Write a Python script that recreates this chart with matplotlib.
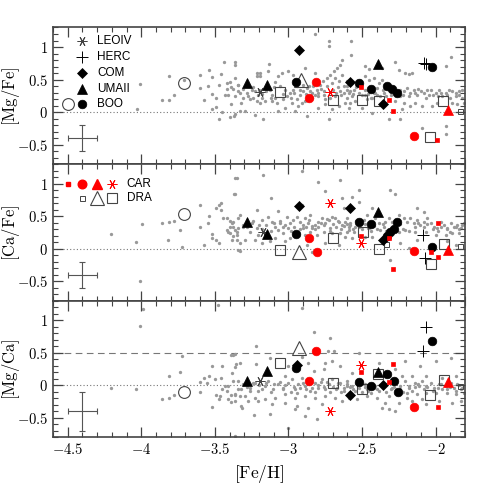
import matplotlib.pyplot as plt
from matplotlib.ticker import MultipleLocator, FuncFormatter

plt.rcParams['mathtext.fontset'] = 'cm'
plt.rcParams['font.family'] = ['Liberation Sans', 'DejaVu Sans']

# ---- field stars (grey dots) : (Fe/H, value)
mgfe_field = [(-4.01, 0.43), (-4.03, 0.04), (-3.86, 0.18), (-3.81, 0.55), (-3.81, 0.19), (-3.78, 0.27),
              (-3.71, 0.50), (-3.60, 0.57), (-3.60, 0.37), (-3.575, 0.18), (-3.54, 0.65), (-3.52, 0.54),
              (-3.55, 0.40), (-3.52, 0.28), (-3.49, 0.22), (-3.52, 0.04), (-3.49, 0.08), (-3.47, -0.11),
              (-3.47, 0.41), (-3.46, 0.58), (-3.44, 0.77), (-3.45, 0.00), (-3.42, 0.44), (-3.42, 0.35),
              (-3.39, 0.39), (-3.36, 0.77), (-3.36, 0.73), (-3.40, -0.07), (-3.36, -0.03), (-3.36, 0.25),
              (-3.34, 0.33), (-3.33, 0.01), (-3.36, 0.52), (-3.43, 0.26), (-3.34, 0.42), (-3.31, 0.36),
              (-3.31, 0.22), (-3.40, 0.46), (-3.34, 0.42), (-3.375, 0.35), (-3.41, 0.27), (-3.33, 0.30),
              (-3.39, 0.12), (-3.32, 0.14), (-3.37, -0.06), (-3.296, 0.015), (-3.23, -0.05), (-3.216, 0.60),
              (-3.19, 0.60), (-3.216, 0.56), (-3.19, 0.56), (-3.17, -0.11), (-3.13, 0.74), (-3.137, 0.63),
              (-3.09, 0.47), (-3.068, 0.55), (-3.046, 0.60), (-3.0, 0.63), (-3.25, 0.347), (-3.227, 0.321),
              (-3.205, 0.27), (-3.182, 0.22), (-3.16, 0.168), (-3.239, 0.22), (-3.216, 0.168), (-3.193, 0.143),
              (-3.273, 0.245), (-3.125, 0.347), (-3.114, 0.27), (-3.091, 0.22), (-3.114, 0.168), (-3.08, 0.143),
              (-3.034, 0.194), (-3.0125, 0.245), (-2.989, 0.296), (-2.966, 0.347), (-2.943, 0.398), (-2.92, 0.347),
              (-2.898, 0.423), (-2.875, 0.372), (-2.852, 0.321), (-2.83, 0.398), (-2.807, 0.347), (-2.784, 0.423),
              (-2.762, 0.474), (-2.739, 0.525), (-2.716, 0.576), (-2.693, 0.627), (-2.67, 0.678), (-2.648, 0.73),
              (-2.636, 0.806), (-2.886, 0.678), (-2.905, 0.143), (-2.932, 0.092), (-2.977, 0.143), (-3.023, 0.066),
              (-3.068, 0.015), (-2.955, 0.015), (-2.875, -0.062), (-2.796, 0.066), (-2.75, 0.117), (-2.705, 0.04),
              (-2.659, 0.092), (-2.614, 0.143), (-2.727, -0.113), (-2.886, 0.168), (-2.84, 0.22), (-2.796, 0.245),
              (-2.761, 0.27), (-2.75, 0.194), (-2.682, 0.245), (-2.648, 0.321), (-2.625, 0.398), (-2.602, 0.474),
              (-2.659, 0.474), (-2.705, 0.449), (-2.682, 0.525), (-2.636, 0.576), (-2.818, 1.20), (-2.727, 1.01),
              (-2.723, 1.087), (-2.818, 0.602), (-2.966, 0.576), (-2.573, 1.097), (-2.573, 0.883), (-2.478, 0.704),
              (-2.455, 0.668), (-2.364, 0.678), (-2.273, 0.77), (-2.205, 0.602), (-2.182, 0.587), (-2.16, 0.602),
              (-2.25, 0.653), (-1.898, 0.842), (-1.932, 0.704), (-2.603, 0.398), (-2.591, 0.296), (-2.568, 0.245),
              (-2.603, 0.22), (-2.557, 0.347), (-2.546, 0.168), (-2.58, 0.143), (-2.478, 0.27), (-2.466, 0.194),
              (-2.432, 0.22), (-2.41, 0.296), (-2.398, 0.372), (-2.387, 0.449), (-2.364, 0.5), (-2.421, 0.525),
              (-2.455, 0.5), (-2.478, 0.551), (-2.375, 0.245), (-2.353, 0.296), (-2.341, 0.143), (-2.273, 0.168),
              (-2.239, 0.245), (-2.216, 0.321), (-2.193, 0.372), (-2.171, 0.296), (-2.148, 0.347), (-2.125, 0.27),
              (-2.1, 0.321), (-2.137, 0.143), (-2.068, 0.22), (-2.046, 0.27), (-2.034, 0.347), (-2.0, 0.296),
              (-1.977, 0.347), (-1.955, 0.245), (-1.932, 0.296), (-1.91, 0.347), (-1.886, 0.321), (-1.864, 0.245),
              (-1.841, 0.321), (-1.818, 0.22), (-1.807, 0.143), (-1.852, 0.117), (-1.886, 0.143), (-1.989, 0.143),
              (-2.023, 0.092), (-2.091, 0.092), (-2.171, 0.092), (-2.216, 0.143), (-2.227, 0.04), (-2.318, -0.113),
              (-2.239, -0.113), (-2.091, -0.24), (-1.932, -0.215), (-1.932, -0.34), (-2.432, -0.01), (-2.5, 0.066),
              (-2.591, 0.066)]
mgfe_band = [(-3.28, 0.30), (-3.26, 0.20), (-3.24, 0.38), (-3.20, 0.34), (-3.18, 0.28), (-3.15, 0.32),
             (-3.12, 0.22), (-3.10, 0.38), (-3.06, 0.40), (-3.04, 0.28), (-3.02, 0.34), (-2.98, 0.22),
             (-2.96, 0.30), (-2.94, 0.20), (-2.92, 0.26), (-2.90, 0.32), (-2.88, 0.28), (-2.86, 0.40),
             (-2.84, 0.30), (-2.82, 0.26), (-2.80, 0.30), (-2.78, 0.36), (-2.76, 0.32), (-2.74, 0.40),
             (-2.72, 0.22), (-2.70, 0.34), (-2.68, 0.30), (-2.66, 0.38), (-2.64, 0.26), (-2.62, 0.30),
             (-2.60, 0.34), (-2.58, 0.32), (-2.56, 0.28), (-2.54, 0.38), (-2.52, 0.30), (-2.50, 0.26),
             (-2.48, 0.34), (-2.46, 0.28), (-2.44, 0.22), (-2.42, 0.30), (-2.40, 0.26), (-2.36, 0.34),
             (-2.34, 0.24), (-2.30, 0.26), (-2.28, 0.30), (-2.24, 0.34), (-2.22, 0.26), (-2.18, 0.24),
             (-2.14, 0.30), (-2.12, 0.36), (-2.08, 0.30), (-2.06, 0.34), (-2.02, 0.26), (-1.98, 0.24),
             (-1.96, 0.30), (-1.92, 0.26), (-1.90, 0.22), (-1.86, 0.30), (-1.84, 0.26), (-1.82, 0.34)]

cafe_field = [(-4.204, 0.23), (-4.034, 0.10), (-3.993, 0.38), (-4.01, -0.49), (-3.86, 0.39), (-3.81, 0.41),
              (-3.78, 0.42), (-3.82, 0.13), (-3.74, 0.29), (-3.72, 0.03), (-3.60, 0.68), (-3.60, 0.34),
              (-3.575, 0.06), (-3.54, 0.51), (-3.545, 0.39), (-3.52, 0.23), (-3.52, 0.17), (-3.49, 0.14),
              (-3.475, 0.67), (-3.46, 0.70), (-3.49, 0.62), (-3.455, 0.60), (-3.47, 0.09), (-3.445, 0.47),
              (-3.40, 0.42), (-3.385, 0.39), (-3.374, 0.34), (-3.363, 0.29), (-3.351, 0.26), (-3.347, 0.14),
              (-3.374, 0.19), (-3.42, 0.29), (-3.397, 0.24), (-3.36, 1.09), (-3.37, 0.84), (-3.34, -0.02),
              (-3.34, 0.47), (-3.31, 0.34), (-3.352, 1.092), (-3.17, 1.133), (-2.91, 1.194), (-2.80, 1.03),
              (-2.648, 1.056), (-3.364, 0.837), (-3.118, 0.786), (-2.75, 0.888), (-2.637, 0.786), (-3.216, 0.597),
              (-3.068, 0.582), (-2.625, 0.622), (-2.909, 0.673), (-3.33, 0.52), (-3.136, 0.495), (-3.01, 0.495),
              (-2.852, 0.52), (-3.42, 0.47), (-3.375, 0.418), (-3.398, 0.342), (-3.341, 0.316), (-3.307, 0.367),
              (-3.352, 0.214), (-3.409, 0.265), (-3.25, 0.393), (-3.216, 0.316), (-3.182, 0.444), (-3.205, 0.214),
              (-3.114, 0.418), (-3.091, 0.342), (-3.057, 0.393), (-3.068, 0.291), (-3.034, 0.24), (-3.0, 0.316),
              (-2.989, 0.393), (-2.966, 0.444), (-2.943, 0.495), (-2.92, 0.418), (-2.886, 0.47), (-2.864, 0.393),
              (-2.898, 0.316), (-2.84, 0.316), (-2.818, 0.367), (-2.796, 0.418), (-2.773, 0.47), (-2.75, 0.393),
              (-2.727, 0.444), (-2.705, 0.495), (-2.682, 0.47), (-2.659, 0.418), (-2.636, 0.367), (-2.614, 0.418),
              (-2.591, 0.342), (-2.716, 0.316), (-2.761, 0.265), (-2.807, 0.214), (-2.852, 0.265), (-2.886, 0.214),
              (-2.705, 0.24), (-2.648, 0.24), (-2.614, 0.188), (-2.602, 0.265), (-2.989, 0.163), (-3.023, 0.112),
              (-3.091, 0.163), (-3.125, 0.112), (-3.182, 0.086), (-3.227, 0.137), (-3.296, 0.137), (-3.33, 0.086),
              (-3.386, 0.137), (-2.875, 0.061), (-2.75, 0.086), (-2.659, 0.061), (-2.84, -0.051), (-3.33, -0.031),
              (-2.518, 0.903), (-2.568, 0.801), (-2.312, 0.903), (-2.273, 0.837), (-2.523, 0.724), (-2.125, 0.622),
              (-2.08, 0.571), (-2.603, 0.469), (-2.58, 0.393), (-2.546, 0.342), (-2.591, 0.291), (-2.557, 0.265),
              (-2.489, 0.444), (-2.466, 0.52), (-2.455, 0.316), (-2.41, 0.469), (-2.387, 0.393), (-2.375, 0.291),
              (-2.353, 0.342), (-2.341, 0.418), (-2.318, 0.469), (-2.296, 0.418), (-2.25, 0.52), (-2.216, 0.469),
              (-2.193, 0.418), (-2.171, 0.469), (-2.148, 0.393), (-2.125, 0.444), (-2.103, 0.367), (-2.08, 0.418),
              (-2.057, 0.469), (-2.034, 0.393), (-2.012, 0.342), (-1.989, 0.316), (-1.966, 0.418), (-1.943, 0.367),
              (-1.921, 0.316), (-1.898, 0.393), (-1.875, 0.342), (-1.853, 0.367), (-1.83, 0.316), (-1.807, 0.393),
              (-1.841, 0.24), (-1.887, 0.24), (-1.932, 0.214), (-2.0, 0.214), (-2.068, 0.265), (-2.137, 0.265),
              (-2.205, 0.291), (-2.25, 0.265), (-2.125, 0.137), (-2.182, 0.01), (-1.864, 0.061), (-1.921, 0.112),
              (-2.239, 0.086), (-2.432, 0.188), (-2.478, 0.188), (-2.568, 0.163), (-2.307, -0.169), (-2.432, 0.622)]
cafe_band = [(-3.28, 0.33), (-3.26, 0.26), (-3.24, 0.42), (-3.20, 0.37), (-3.18, 0.30), (-3.15, 0.36),
             (-3.12, 0.28), (-3.10, 0.40), (-3.06, 0.43), (-3.04, 0.33), (-3.02, 0.37), (-2.98, 0.27),
             (-2.96, 0.34), (-2.94, 0.26), (-2.92, 0.31), (-2.90, 0.37), (-2.88, 0.33), (-2.86, 0.44),
             (-2.84, 0.35), (-2.82, 0.30), (-2.80, 0.34), (-2.78, 0.40), (-2.76, 0.36), (-2.74, 0.45),
             (-2.72, 0.28), (-2.70, 0.38), (-2.68, 0.34), (-2.66, 0.42), (-2.64, 0.31), (-2.62, 0.35),
             (-2.60, 0.38), (-2.58, 0.36), (-2.56, 0.31), (-2.54, 0.42), (-2.52, 0.34), (-2.50, 0.30),
             (-2.48, 0.38), (-2.46, 0.32), (-2.44, 0.27), (-2.42, 0.35), (-2.40, 0.30), (-2.36, 0.38),
             (-2.34, 0.28), (-2.30, 0.32), (-2.28, 0.36), (-2.24, 0.38), (-2.22, 0.30), (-2.18, 0.28),
             (-2.14, 0.34), (-2.12, 0.40), (-2.08, 0.34), (-2.06, 0.38), (-2.02, 0.30), (-1.98, 0.27),
             (-1.96, 0.34), (-1.92, 0.30), (-1.90, 0.26), (-1.86, 0.34), (-1.84, 0.30), (-1.82, 0.37)]

mgca_field = [(-3.99, 1.17), (-3.48, 1.23), (-2.91, 1.19), (-4.01, 0.92), (-4.204, -0.045), (-4.034, -0.05),
              (-3.86, -0.21), (-3.81, -0.20), (-3.81, 0.14), (-3.78, -0.15), (-3.74, 0.20), (-3.72, 0.45),
              (-3.60, 0.05), (-3.60, -0.10), (-3.575, 0.12), (-3.555, 0.04), (-3.54, 0.14), (-3.52, 0.30),
              (-3.52, -0.33), (-3.50, 0.10), (-3.49, -0.14), (-3.47, -0.21), (-3.465, -0.17), (-3.455, 0.107),
              (-3.45, 0.30), (-3.45, -0.06), (-3.43, -0.01), (-3.42, -0.09), (-3.41, -0.21), (-3.39, -0.25),
              (-3.385, 0.19), (-3.375, 0.47), (-3.365, 0.29), (-3.355, 0.33), (-3.36, -0.78), (-3.34, 0.065),
              (-3.33, -0.16), (-3.32, -0.32), (-3.32, -0.05), (-3.39, -0.14), (-3.365, -0.14), (-2.823, 0.822),
              (-2.716, 0.73), (-3.221, 0.603), (-3.125, 0.424), (-3.387, 0.475), (-3.364, 0.485), (-3.33, 0.347),
              (-3.221, 0.322), (-3.0, 0.296), (-2.909, 0.44), (-2.732, 0.526), (-2.693, 0.536), (-2.75, 0.347),
              (-2.705, 0.373), (-2.648, 0.296), (-2.761, 0.245), (-2.823, 0.22), (-3.023, 0.143), (-2.864, 0.347),
              (-3.409, -0.01), (-3.375, 0.067), (-3.341, -0.061), (-3.307, 0.016), (-3.364, -0.138), (-3.262, -0.035),
              (-3.227, 0.041), (-3.205, -0.086), (-3.159, -0.01), (-3.136, 0.067), (-3.102, -0.061), (-3.068, 0.016),
              (-3.034, -0.035), (-3.0, 0.041), (-2.977, 0.092), (-2.955, -0.061), (-2.932, 0.016), (-2.909, 0.118),
              (-2.886, -0.01), (-2.852, -0.086), (-2.818, 0.041), (-2.796, -0.035), (-2.773, 0.092), (-2.75, -0.061),
              (-2.727, 0.016), (-2.705, 0.092), (-2.671, -0.035), (-2.648, 0.041), (-2.625, -0.086), (-2.602, -0.01),
              (-2.886, -0.163), (-2.955, -0.189), (-3.023, -0.138), (-3.091, -0.189), (-3.159, -0.214), (-3.227, -0.189),
              (-3.296, -0.163), (-3.364, -0.24), (-2.818, -0.189), (-2.75, -0.163), (-2.682, -0.189), (-2.636, -0.24),
              (-2.773, -0.291), (-2.864, -0.342), (-2.943, -0.316), (-3.023, -0.265), (-3.114, -0.291), (-3.205, -0.24),
              (-3.273, -0.24), (-3.125, -0.444), (-3.232, -0.459), (-3.318, -0.342), (-2.807, -0.51), (-2.886, -0.469),
              (-2.955, -0.367), (-3.0, -0.648), (-2.518, 0.501), (-2.205, 0.373), (-1.898, 0.424), (-2.0, 0.373),
              (-2.103, 0.296), (-2.273, 0.245), (-2.387, 0.347), (-2.568, 0.194), (-2.603, 0.067), (-2.568, -0.01),
              (-2.546, -0.086), (-2.478, 0.016), (-2.466, -0.061), (-2.41, -0.01), (-2.387, -0.086), (-2.341, 0.016),
              (-2.296, -0.035), (-2.239, -0.01), (-2.205, 0.067), (-2.182, -0.01), (-2.159, -0.086), (-2.137, 0.041),
              (-2.114, -0.01), (-2.091, 0.067), (-2.068, -0.01), (-2.034, 0.041), (-2.012, -0.035), (-1.977, 0.016),
              (-1.955, -0.061), (-1.932, -0.01), (-1.898, 0.041), (-1.875, -0.035), (-1.853, 0.016), (-1.83, -0.061),
              (-1.807, -0.112), (-1.864, -0.138), (-1.921, -0.112), (-2.0, -0.112), (-2.068, -0.112), (-2.125, -0.138),
              (-2.193, -0.112), (-2.25, -0.138), (-2.318, -0.163), (-2.398, -0.189), (-2.466, -0.163), (-2.534, -0.214),
              (-2.591, -0.189), (-2.341, -0.265), (-2.25, -0.265), (-2.159, -0.24), (-2.068, -0.291), (-1.977, -0.24),
              (-1.887, -0.265), (-1.83, -0.24), (-2.068, 0.143), (-2.159, 0.143), (-2.227, 0.143), (-1.955, 0.118),
              (-1.864, 0.143), (-2.364, -0.342), (-2.318, -0.367), (-2.273, -0.393), (-2.193, -0.189), (-2.091, -0.214)]
mgca_band = [(-3.28, -0.02), (-3.26, -0.08), (-3.24, 0.04), (-3.20, 0.01), (-3.18, -0.05), (-3.15, 0.03),
             (-3.12, -0.10), (-3.10, 0.02), (-3.06, 0.06), (-3.04, -0.06), (-3.02, 0.00), (-2.98, -0.10),
             (-2.96, -0.02), (-2.94, -0.12), (-2.92, -0.04), (-2.90, 0.04), (-2.88, -0.06), (-2.86, 0.02),
             (-2.84, -0.04), (-2.82, -0.10), (-2.80, 0.00), (-2.78, 0.05), (-2.76, -0.02), (-2.74, 0.06),
             (-2.72, -0.10), (-2.70, -0.02), (-2.68, -0.06), (-2.66, 0.03), (-2.64, -0.10), (-2.62, -0.04),
             (-2.60, 0.02), (-2.58, -0.02), (-2.56, -0.06), (-2.54, 0.04), (-2.52, -0.04), (-2.50, -0.10),
             (-2.48, -0.02), (-2.46, -0.08), (-2.44, -0.12), (-2.42, -0.04), (-2.40, -0.06), (-2.36, -0.02),
             (-2.34, -0.10), (-2.30, -0.06), (-2.28, -0.02), (-2.24, -0.06), (-2.22, -0.10), (-2.18, -0.04),
             (-2.14, -0.02), (-2.12, 0.02), (-2.08, -0.06), (-2.06, -0.02), (-2.02, -0.08), (-1.98, -0.04),
             (-1.96, 0.02), (-1.92, -0.06), (-1.90, -0.02), (-1.86, -0.08), (-1.84, 0.00), (-1.82, -0.04)]

# ---- dwarf galaxy stars, per panel: (Fe/H, value)
leo = [[(-3.193, 0.31)], [(-3.175, 0.25)], [(-3.193, 0.07)]]
herc = [[(-2.08, 0.76), (-2.065, 0.74)], [(-2.086, 0.21), (-2.075, -0.14)], [(-2.068, 0.90), (-2.085, 0.53)]]
com = [[(-2.927, 0.95), (-2.58, 0.47), (-2.357, 0.13)],
       [(-2.927, 0.65), (-2.58, 0.62), (-2.357, 0.14)],
       [(-2.94, 0.31), (-2.58, -0.15), (-2.357, 0.0)]]
umaii = [[(-3.28, 0.45), (-3.147, 0.42), (-2.39, 0.74)],
         [(-3.28, 0.41), (-3.147, 0.23), (-2.39, 0.56)],
         [(-3.28, 0.07), (-3.147, 0.22), (-2.39, 0.21)]]
boo = [[(-2.95, 0.47), (-2.518, 0.44), (-2.437, 0.36), (-2.33, 0.40), (-2.296, 0.35), (-2.26, 0.30), (-2.027, 0.70)],
       [(-2.95, 0.22), (-2.518, 0.41), (-2.437, 0.38), (-2.26, 0.41), (-2.284, 0.31), (-2.31, 0.26), (-2.33, 0.20),
        (-2.027, 0.02)],
       [(-2.95, 0.27), (-2.518, 0.06), (-2.437, -0.01), (-2.33, 0.18), (-2.284, 0.07), (-2.257, -0.10), (-2.027, 0.69)]]
boo_open = [[(-3.71, 0.44)], [(-3.71, 0.54)], [(-3.71, -0.10)]]
car_sq = [[(-2.505, 0.38), (-2.318, 0.19), (-2.288, 0.02), (-1.99, -0.43)],
          [(-2.507, 0.20), (-2.318, 0.17), (-2.288, -0.31), (-1.985, 0.40), (-2.03, -0.05), (-1.985, -0.12)],
          [(-2.507, 0.20), (-2.318, 0.05), (-2.288, 0.33), (-1.985, -0.33)]]
car_circ = [[(-2.81, 0.46), (-2.86, 0.21), (-2.148, -0.37)],
            [(-2.86, 0.16), (-2.806, -0.05), (-2.148, -0.03)],
            [(-2.81, 0.53), (-2.86, 0.07), (-2.148, -0.33)]]
car_tri = [[(-1.917, 0.03)], [(-1.917, -0.02)], [(-1.917, 0.06)]]
car_ast = [[(-2.72, 0.31)], [(-2.72, 0.71), (-2.505, 0.09)], [(-2.72, -0.40), (-2.505, 0.32)]]
dra_small = [[(-1.837, 0.02)], [(-1.837, 0.04), (-2.334, 0.08)], [(-1.837, -0.01)]]
dra_tri = [[(-2.914, 0.50)], [(-2.927, -0.05)], [(-2.927, 0.58)]]
dra_sq = [[(-3.06, 0.31), (-2.70, 0.18), (-2.50, 0.18), (-2.387, 0.17), (-1.948, 0.17), (-2.04, -0.38)],
          [(-3.06, -0.02), (-2.70, 0.17), (-2.496, 0.25), (-2.387, 0.0), (-1.94, 0.08), (-2.03, -0.23)],
          [(-3.06, 0.35), (-2.70, 0.03), (-2.50, -0.05), (-2.39, 0.17), (-1.94, 0.09), (-2.04, -0.15)]]

fields = [mgfe_field + mgfe_band, cafe_field + cafe_band, mgca_field + mgca_band]
ylabels = [r'$[\mathrm{Mg/Fe}]$', r'$[\mathrm{Ca/Fe}]$', r'$[\mathrm{Mg/Ca}]$']
yerrs = [0.2, 0.2, 0.3]

grey = '#999999'
dark = '#444444'
red = '#ff0000'
ast = (6, 2, 90)

# marker styles: (data, marker, size, face, edge, lw)
styles = [
    (boo_open, 'o', 8.5, 'none', dark, 0.8),
    (dra_sq, 's', 7.0, 'none', dark, 0.8),
    (dra_small, 's', 3.6, 'none', dark, 0.7),
    (dra_tri, '^', 9.5, 'none', dark, 0.8),
    (leo, ast, 7.0, dark, dark, 0.7),
    (herc, '+', 8.0, 'k', 'k', 0.7),
    (umaii, '^', 6.5, 'k', 'k', 0.5),
    (com, 'D', 5.5, 'k', 'k', 0.5),
    (boo, 'o', 6.2, 'k', 'k', 0.5),
    (car_sq, 's', 3.2, red, red, 0.5),
    (car_circ, 'o', 6.2, red, red, 0.5),
    (car_tri, '^', 7.5, red, red, 0.5),
    (car_ast, ast, 7.0, red, red, 0.7),
]

fig, axes = plt.subplots(3, 1, figsize=(4.91, 4.91), dpi=100, sharex=True)
fig.subplots_adjust(left=0.108, right=0.947, top=0.944, bottom=0.109, hspace=0)

fmt = FuncFormatter(lambda v, p: '$%g$' % v if abs(v) > 1e-9 else '$0$')

for k, ax in enumerate(axes):
    fx, fy = zip(*fields[k])
    ax.plot(fx, fy, 'o', ms=2.4, color=grey, mec='none', zorder=1)
    ax.axhline(0, color='#777777', ls=(0, (1, 2)), lw=0.8, zorder=0)
    if k == 2:
        ax.axhline(0.5, color='#777777', ls=(0, (6, 4)), lw=0.8, zorder=0)
    for data, mk, ms, fc, ec, lw in styles:
        x, y = zip(*data[k])
        ax.plot(x, y, ls='none', marker=mk, ms=ms, mfc=fc, mec=ec, mew=lw, zorder=3)
    ax.errorbar(-4.4, -0.4, xerr=0.1, yerr=yerrs[k], color='#555555', lw=0.8, capsize=2, capthick=0.8)

    ax.set_xlim(-4.6, -1.8)
    ax.set_ylim(-0.8, 1.3)
    ax.xaxis.set_major_locator(MultipleLocator(0.5))
    ax.xaxis.set_minor_locator(MultipleLocator(0.1))
    ax.yaxis.set_major_locator(MultipleLocator(0.5))
    ax.yaxis.set_minor_locator(MultipleLocator(0.1))
    ax.yaxis.set_major_formatter(fmt)
    ax.xaxis.set_major_formatter(fmt)
    ax.tick_params(which='both', direction='in', top=True, right=True, color=dark, labelsize=10.5)
    ax.tick_params(which='major', length=7, width=0.9)
    ax.tick_params(which='minor', length=3.5, width=0.8)
    for s in ax.spines.values():
        s.set_color(dark)
        s.set_linewidth(1.2)
    ax.set_ylabel(ylabels[k], fontsize=12)
    ax.yaxis.set_label_coords(-0.076, 0.5)

axes[2].set_xlabel(r'$[\mathrm{Fe/H}]$', fontsize=12.5)

# legend, top panel
ax = axes[0]
leg_rows = [(1.09, 'LEOIV', ast, 7.0, dark, dark, 0.7), (0.84, 'HERC', '+', 8.0, 'k', 'k', 0.7),
            (0.60, 'COM', 'D', 5.5, 'k', 'k', 0.5), (0.36, 'UMAII', '^', 6.5, 'k', 'k', 0.5),
            (0.13, 'BOO', 'o', 6.2, 'k', 'k', 0.5)]
for yy, lab, mk, ms, fc, ec, lw in leg_rows:
    ax.plot(-4.4, yy, ls='none', marker=mk, ms=ms, mfc=fc, mec=ec, mew=lw)
    ax.text(-4.3, yy, lab, fontsize=8.5, va='center', ha='left')
ax.plot(-4.5, 0.13, ls='none', marker='o', ms=8.5, mfc='none', mec=dark, mew=0.8)

# legend, middle panel
ax = axes[1]
ax.plot(-4.5, 1.0, ls='none', marker='s', ms=3.2, mfc=red, mec=red)
ax.plot(-4.4, 1.0, ls='none', marker='o', ms=6.2, mfc=red, mec=red)
ax.plot(-4.3, 1.0, ls='none', marker='^', ms=7.5, mfc=red, mec=red)
ax.plot(-4.2, 1.0, ls='none', marker=ast, ms=7.0, mfc=red, mec=red, mew=0.7)
ax.text(-4.1, 1.0, 'CAR', fontsize=8.5, va='center', ha='left')
ax.plot(-4.4, 0.78, ls='none', marker='s', ms=3.6, mfc='none', mec=dark, mew=0.7)
ax.plot(-4.3, 0.78, ls='none', marker='^', ms=9.5, mfc='none', mec=dark, mew=0.8)
ax.plot(-4.2, 0.78, ls='none', marker='s', ms=7.0, mfc='none', mec=dark, mew=0.8)
ax.text(-4.1, 0.78, 'DRA', fontsize=8.5, va='center', ha='left')

fig.savefig('out.png', dpi=100)
